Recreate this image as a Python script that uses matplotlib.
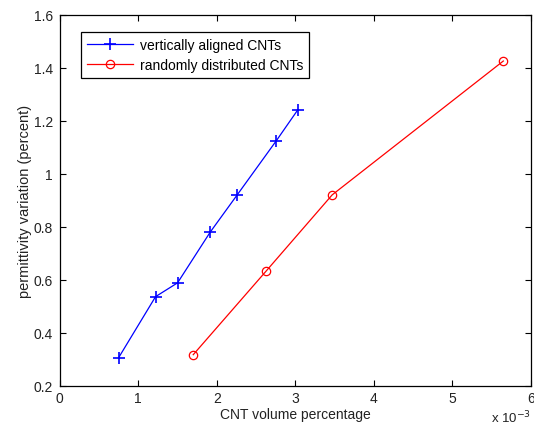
import matplotlib
matplotlib.use("Agg")
import matplotlib.pyplot as plt

plt.rcParams['font.family'] = ['Liberation Sans', 'DejaVu Sans']

# data
vert_x = [0.75e-3, 1.22e-3, 1.50e-3, 1.915e-3, 2.26e-3, 2.76e-3, 3.03e-3]
vert_y = [0.306, 0.536, 0.588, 0.779, 0.920, 1.125, 1.240]
rand_x = [1.70e-3, 2.63e-3, 3.47e-3, 5.65e-3]
rand_y = [0.317, 0.633, 0.920, 1.425]

xticks = [0, 1e-3, 2e-3, 3e-3, 4e-3, 5e-3, 6e-3]
xtick_labels = ['0', '1', '2', '3', '4', '5', '6']
yticks = [0.2, 0.4, 0.6, 0.8, 1.0, 1.2, 1.4, 1.6]
ytick_labels = ['0.2', '0.4', '0.6', '0.8', '1', '1.2', '1.4', '1.6']

fig = plt.figure(figsize=(5.34, 4.27), dpi=100)
ax = fig.add_axes([0.112, 0.0944, 0.882, 0.869])

ax.plot(vert_x, vert_y, color='#0000ff', lw=0.9, marker='+',
        markersize=8, markeredgewidth=1.2, label='vertically aligned CNTs')
ax.plot(rand_x, rand_y, color='#ff0000', lw=0.9, marker='o', markersize=6,
        markerfacecolor='none', markeredgewidth=0.9, label='randomly distributed CNTs')

ax.set_xlim(0, 6e-3)
ax.set_ylim(0.2, 1.6)
ax.set_xticks(xticks)
ax.set_xticklabels(xtick_labels)
ax.set_yticks(yticks)
ax.set_yticklabels(ytick_labels)
ax.tick_params(direction='in', length=4, width=0.8, top=True, right=True,
               labelsize=10, labelcolor='#222222')
ax.tick_params(axis='y', pad=5)
for s in ax.spines.values():
    s.set_linewidth(0.9)

ax.text(1.0, -0.106, r'x 10$^{-3}$', transform=ax.transAxes, ha='right',
        va='bottom', fontsize=9.5, color='#222222')

ax.set_xlabel('CNT volume percentage', fontsize=10, labelpad=2, color='#222222')
ax.set_ylabel('permittivity variation (percent)', fontsize=10.5, labelpad=1, color='#222222')

leg = ax.legend(loc='upper left', bbox_to_anchor=(0.044, 0.954), borderaxespad=0,
                fontsize=10, fancybox=False, framealpha=1, edgecolor='black',
                handlelength=3.3, handletextpad=0.5, borderpad=0.45, labelspacing=0.45)
leg.get_frame().set_linewidth(0.9)

fig.savefig('out.png', dpi=100)
